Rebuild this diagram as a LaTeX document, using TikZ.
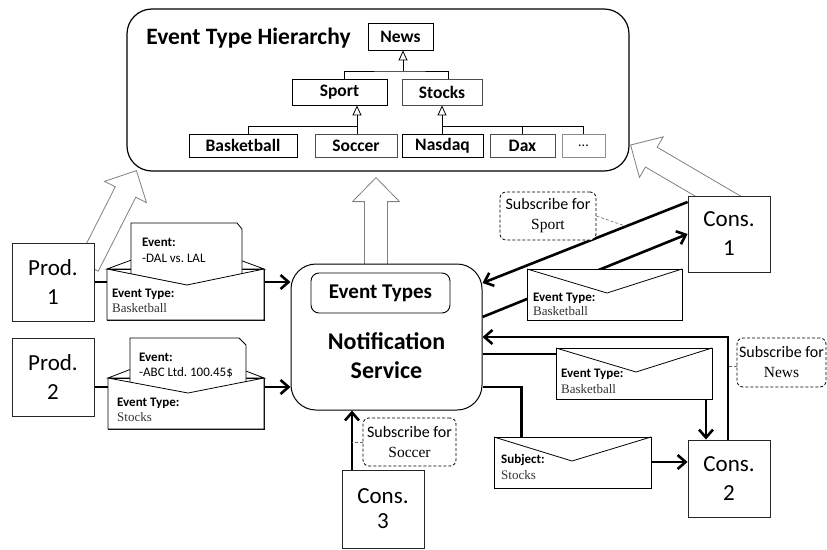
\documentclass[tikz,border=0pt]{standalone}
\usepackage{fontspec}
\setmainfont{Carlito}
\newfontfamily\serifface{Liberation Serif}
\usetikzlibrary{calc,arrows.meta}
\pgfdeclarelayer{bg}
\pgfsetlayers{bg,main}

% broad hollow arrow from #1 to #2
\newcommand\hollowarrow[2]{%
  \coordinate (hb) at ($(#2)!24pt!(#1)$);
  \draw[hollow] ($(#1)!11.5pt!90:(#2)$) -- ($(hb)!11.5pt!90:(#2)$) -- ($(hb)!23.5pt!90:(#2)$)
    -- (#2) -- ($(hb)!23.5pt!-90:(#2)$) -- ($(hb)!11.5pt!-90:(#2)$) -- ($(#1)!11.5pt!-90:(#2)$) -- cycle;}

\tikzset{
  hollow/.style={draw=black!50, fill=white, line width=0.8pt, line join=miter},
  box/.style={draw=black!85, line width=0.9pt, fill=white, minimum width=82pt, inner sep=0pt, align=center,
    font=\fontsize{23}{29}\selectfont},
  typebox/.style={draw, line width=0.9pt, fill=white, inner sep=0pt, minimum height=23pt,
    font=\bfseries\fontsize{17.5}{20}\selectfont},
  tree/.style={line width=0.9pt},
  inh/.style={-{Triangle[open, length=10pt, width=9pt, line width=0.8pt]}},
  conn/.style={line width=2.6pt, -{Straight Barb[length=8pt, width=14pt]}},
  env/.style={draw, fill=white, line width=0.8pt, line join=miter},
  envhead/.style={anchor=west, inner sep=0pt, font=\bfseries\fontsize{13}{15}\selectfont},
  envtext/.style={anchor=west, inner sep=0pt, text=black!80, font=\serifface\fontsize{13}{15}\selectfont},
  lettertext/.style={anchor=west, inner sep=0pt, font=\fontsize{13}{15}\selectfont},
  sub/.style={draw=black, dash pattern=on 3pt off 2pt, rounded corners=6pt, fill=white,
    align=center, inner sep=0pt, line width=0.8pt, font=\fontsize{16}{20}\selectfont},
  subline/.style={draw=black!60, dash pattern=on 3pt off 2pt, line width=0.6pt},
}

\begin{document}
\begin{tikzpicture}[x=1pt,y=-1pt]
\useasboundingbox (0,0) rectangle (827,549);

% ---------- event type hierarchy ----------
\node[draw, line width=1.2pt, rounded corners=25pt, fill=white, minimum width=502pt,
  minimum height=162pt, inner sep=0pt] (H) at (378,90) {};
\node[font=\bfseries\fontsize{23.5}{26}\selectfont, inner sep=0pt] (Htitle) at (248.5,38) {Event Type Hierarchy};
\node[typebox, minimum width=65pt, minimum height=27pt] (News) at (400.5,36.5) {News};
\node[typebox, minimum width=95pt, minimum height=26pt] (Sport) at (339.5,92) {Sport};
\node[typebox, minimum width=80pt, minimum height=26pt, draw=black!70] (Stocks) at (442,92) {Stocks};
\node[typebox, minimum width=108pt] (Basketball) at (243,145.5) {Basketball};
\node[typebox, minimum width=82pt, draw=black!70] (Soccer) at (356,145.5) {Soccer};
\node[typebox, minimum width=81pt] (Nasdaq) at (442.5,145.5) {Nasdaq};
\node[typebox, minimum width=65pt, draw=black!70] (Dax) at (522.5,145.5) {Dax};
\node[typebox, minimum width=43pt, draw=black!45, font=\fontsize{14}{16}\selectfont] (More) at (583.5,145.5) {...};

\coordinate (j1) at (403,71);
\coordinate (j2) at (357,126);
\coordinate (j3) at (442,126);
\draw[tree] ([xshift=4.5pt]Sport.north) |- (j1) -| ([xshift=6pt]Stocks.north);
\draw[tree, inh] (j1) -- (j1 |- News.south);
\draw[tree] ([xshift=5pt]Basketball.north) |- (j2);
\draw[tree] (j2 |- Soccer.north) -- (j2);
\draw[tree, inh] (j2) -- (j2 |- Sport.south);
\draw[tree] (j3 |- Nasdaq.north) -- (j3) -| (More.north);
\draw[tree] (Dax.north) -- (Dax.north |- j3);
\draw[tree, inh] (j3) -- (Stocks.south);

% ---------- producers, consumers, service ----------
\node[box, minimum height=78pt] (Prod1) at (53,282) {Prod.\\1};
\node[box, minimum height=78pt] (Prod2) at (53,377) {Prod.\\2};
\node[box, minimum height=76pt] (Cons1) at (729,234) {Cons.\\1};
\node[box, minimum height=77pt] (Cons2) at (729,478.5) {Cons.\\2};
\node[box, minimum height=78pt, font=\fontsize{23}{25}\selectfont] (Cons3) at (383,509) {Cons.\\3};

\node[draw, line width=1pt, fill=white, rounded corners=25pt, minimum width=191pt,
  minimum height=146pt, inner sep=0pt] (NS) at (386.5,337) {};
\node[draw, line width=0.9pt, fill=white, rounded corners=8pt, minimum width=139pt, minimum height=40pt,
  inner sep=0pt, font=\bfseries\fontsize{21}{24}\selectfont] (ET) at (380.5,293) {Event Types};
\node[align=center, inner sep=0pt, font=\bfseries\fontsize{24}{29}\selectfont] (NStext) at (386.5,356) {Notification\\Service};

% ---------- open envelope: Prod. 1 ----------
\draw[env] (107,269) -- (186,240) -- (264,269) -- cycle;
\draw[env] (107,269) rectangle (264,320);
\draw[env] (131,292) -- (131,223) -- (237,223) -- (242,229) -- (242,292) -- cycle;
\node[lettertext, font=\bfseries\fontsize{13}{15}\selectfont] (l1a) at (142,242) {Event:};
\node[lettertext] (l1b) at (142,258) {-DAL vs.\ LAL};
\draw[env] (107,269) -- (187,285) -- (264,269) -- (264,320) -- (107,320) -- cycle;
\node[envhead] (e1a) at (112,294) {Event Type:};
\node[envtext] (e1b) at (112,308) {Basketball};

% ---------- open envelope: Prod. 2 ----------
\draw[env] (108,378) -- (186,348) -- (264,378) -- cycle;
\draw[env] (108,378) rectangle (264,429);
\draw[env] (130,400) -- (130,338) -- (239,338) -- (246,345) -- (246,400) -- cycle;
\node[lettertext, font=\bfseries\fontsize{13}{15}\selectfont] (l2a) at (139,357) {Event:};
\node[lettertext] (l2b) at (139,373) {-ABC Ltd.\ 100.45\$};
\draw[env] (108,378) -- (188,393) -- (264,378) -- (264,429) -- (108,429) -- cycle;
\node[envhead] (e2a) at (117,403) {Event Type:};
\node[envtext] (e2b) at (117,417) {Stocks};

% ---------- closed envelopes towards the consumers ----------
\draw[env] (527,269) rectangle (682,320);
\draw[line width=0.8pt] (527,269) -- (607,293) -- (682,269);
\node[envhead] (e3a) at (533,298) {Event Type:};
\node[envtext] (e3b) at (533,311) {Basketball};

\draw[env] (556,348) rectangle (712,399);
\draw[line width=0.8pt] (556,348) -- (636,372) -- (712,348);
\node[envhead] (e4a) at (561,374) {Event Type:};
\node[envtext] (e4b) at (561,389) {Basketball};

\draw[env] (494,437) rectangle (651,488);
\draw[line width=0.8pt] (494,437) -- (572,461) -- (651,437);
\node[envhead] (e5a) at (501,460) {Subject:};
\node[envtext] (e5b) at (501,475) {Stocks};

% ---------- subscriptions ----------
\node[sub, minimum width=96pt, minimum height=48pt] (subSport) at (548,216)
  {Subscribe for\\{\serifface\fontsize{15.5}{20}\selectfont Sport}};
\node[sub, minimum width=89pt, minimum height=49pt] (subNews) at (781.5,362.5)
  {Subscribe for\\{\serifface\fontsize{15.5}{20}\selectfont News}};
\node[sub, minimum width=93pt, minimum height=48pt] (subSoccer) at (409.5,442)
  {Subscribe for\\{\serifface\fontsize{15.5}{20}\selectfont Soccer}};

% ---------- links, drawn underneath ----------
\begin{pgfonlayer}{bg}
  \coordinate (a1s) at ($(Prod1.center)+(35,-16)$);
  \coordinate (a1e) at ($(H.south west)+(10,-1)$);
  \coordinate (a2s) at ($(ET.center)+(-4.5,0)$);
  \coordinate (a2e) at ($(a2s |- H.south)+(0,6)$);
  \coordinate (a3s) at ($(Cons1.center)+(16,-22)$);
  \coordinate (a3e) at ($(H.east)+(1,55)$);
  \hollowarrow{a1s}{a1e}
  \hollowarrow{a2s}{a2e}
  \hollowarrow{a3s}{a3e}

  \draw[conn] (Prod1.east) -- (Prod1.east -| NS.west);
  \draw[conn] ([yshift=-10pt]Prod2.east) -- ([yshift=-10pt]Prod2.east -| NS.west);

  \coordinate (c1a) at ([yshift=32pt]Cons1.west);
  \coordinate (c1b) at ([yshift=54pt]NS.east);
  \draw[conn] (c1a) -- (c1b);
  \draw[conn] ([yshift=20pt]NS.east) -- (Cons1.west);

  \draw[conn] ([xshift=-1pt]Cons2.north) |- (NS.east);
  \draw[conn] ([yshift=-17pt]NS.east) -| ([xshift=-23pt]Cons2.north);
  \draw[conn] ([yshift=-50pt]NS.east) -- ++(39,0) |- ([yshift=16.5pt]Cons2.west);

  \coordinate (c3) at ([xshift=-31pt]Cons3.north);
  \draw[conn] (c3) -- (c3 |- NS.south);

  \path (c1a) -- (c1b) coordinate[pos=0.3] (sportpt);
  \draw[subline] (subSport.east) -- (sportpt);
  \draw[subline] ([yshift=-4pt]subNews.west) -- ([yshift=-4pt]subNews.west -| Cons2.north);
  \draw[subline] (subSoccer.west) -- (subSoccer.west -| c3);
\end{pgfonlayer}
\end{tikzpicture}
\end{document}
